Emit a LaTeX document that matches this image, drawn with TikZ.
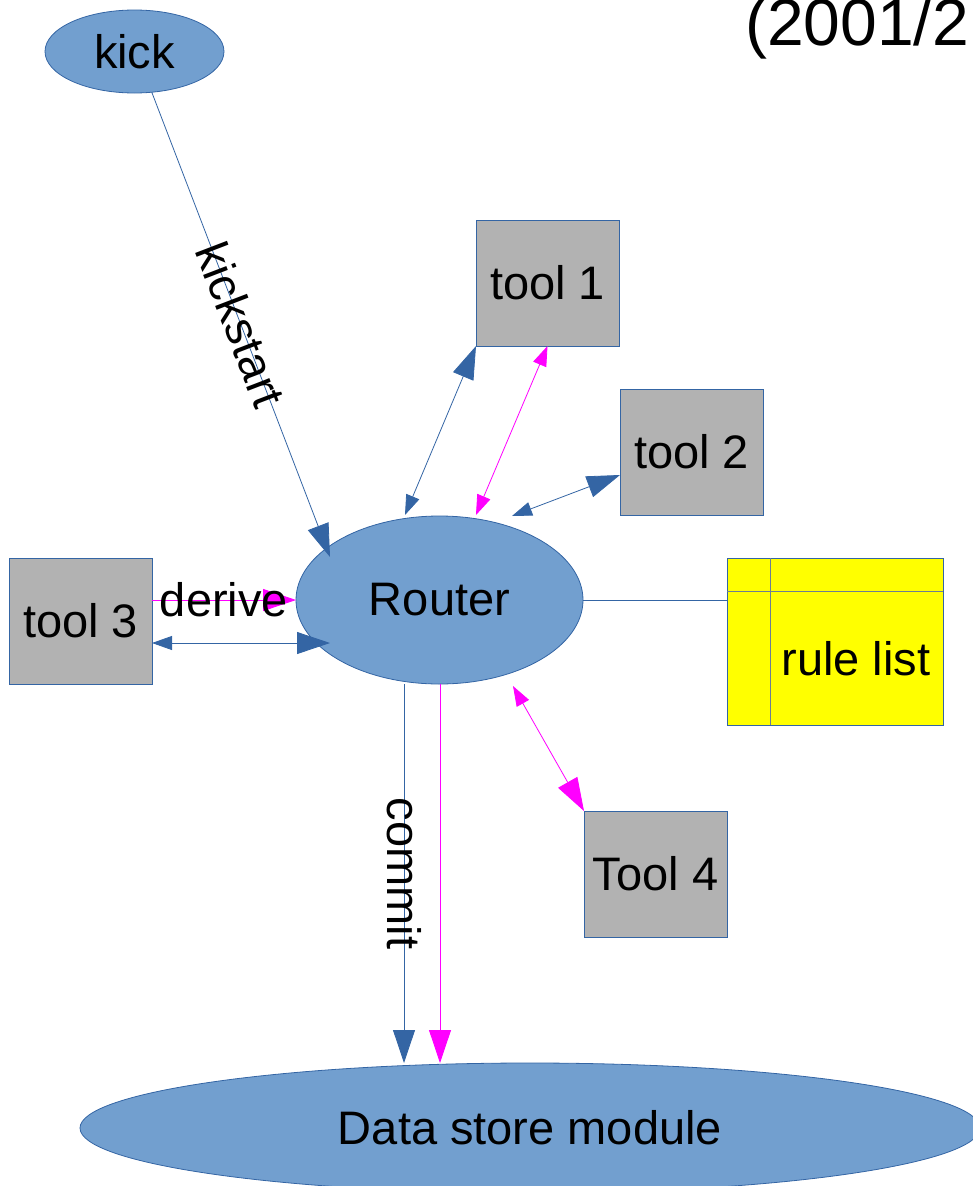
\documentclass[tikz,border=0pt]{standalone}
\usepackage{fontspec}
\setmainfont{Liberation Sans}
\usetikzlibrary{shapes.geometric,arrows.meta}
\definecolor{lineblue}{HTML}{3465A4}
\definecolor{fillblue}{HTML}{729FCF}
\definecolor{boxgray}{HTML}{B2B2B2}
\definecolor{linkmag}{HTML}{FF00FF}
\definecolor{ruleyellow}{HTML}{FFFF00}
\definecolor{rulegrid}{HTML}{6C7E94}
\begin{document}
\begin{tikzpicture}[x=1pt,y=-1pt,
  txt/.style={font=\fontsize{47}{56}\selectfont, text=black},
  oval/.style={ellipse, draw=lineblue, fill=fillblue, line width=0.8pt,
    inner sep=0pt, outer sep=0pt, txt},
  toolbox/.style={rectangle, draw=lineblue, fill=boxgray, line width=0.8pt,
    minimum width=143pt, minimum height=126pt, inner sep=0pt, outer sep=0pt, txt},
  bluelink/.style={draw=lineblue, line width=0.8pt},
  maglink/.style={draw=linkmag, line width=0.8pt},
  tipBE/.style={-{Triangle[length=33pt,width=22pt]}},
  tipSB/.style={{Triangle[length=20pt,width=14pt]}-{Triangle[length=33pt,width=22pt]}},
  tipSS/.style={{Triangle[length=20pt,width=14pt]}-{Triangle[length=20pt,width=14pt]}},
  lbl/.style={txt, inner sep=0pt}]
\useasboundingbox (0,0) rectangle (972,1186);

% main blocks
\node[oval, minimum width=179pt, minimum height=83pt] (kick) at (134.5,51.5) {kick};
\node[oval, minimum width=287pt, minimum height=168pt] (router) at (439.5,600) {Router};
\node[oval, minimum width=900pt, minimum height=130pt] (store) at (530,1128) {Data store module};

\node[toolbox] (tool1) at (547.5,283) {tool 1};
\node[toolbox] (tool2) at (691.5,452) {tool 2};
\node[toolbox] (tool3) at (80.5,621) {tool 3};
\node[toolbox] (tool4) at (655.5,874) {Tool 4};

% rule list table
\node[rectangle, draw=lineblue, fill=ruleyellow, line width=0.8pt,
  minimum width=216pt, minimum height=167pt, inner sep=0pt, outer sep=0pt]
  (rules) at (835,641.5) {};
\draw[rulegrid, line width=0.8pt] ([xshift=43pt]rules.north west) -- ([xshift=43pt]rules.south west);
\draw[rulegrid, line width=0.8pt] ([yshift=-33pt]rules.north west) -- ([yshift=-33pt]rules.north east);
\node[lbl] (rulestext) at (856,659) {rule list};

% heading
\node[anchor=base west, inner sep=0pt, font=\fontsize{66}{76}\selectfont] (period) at (745,45) {(2001/2};

% connector end points on the router
\coordinate (rKick) at ([xshift=-109.5pt,yshift=43pt]router.center);
\coordinate (rT1b) at ([xshift=-34.5pt,yshift=85pt]router.center);
\coordinate (rT1m) at ([xshift=36.5pt,yshift=85pt]router.center);
\coordinate (rT2) at ([xshift=72.5pt,yshift=84pt]router.center);
\coordinate (rT3) at ([xshift=-109.5pt,yshift=-43pt]router.center);
\coordinate (rT4) at ([xshift=73.5pt,yshift=-86pt]router.center);
\coordinate (rCommit) at ([xshift=-35.5pt]router.south);
\coordinate (rStore) at ([xshift=0.5pt]router.south);

% connectors
\draw[bluelink, tipBE] (kick.-67) -- (rKick)
  node[midway, sloped, lbl] (kicklabel) {kickstart};
\draw[bluelink, tipSB] (rT1b) -- (tool1.south west);
\draw[maglink, tipSS] (rT1m) -- (tool1.south);
\draw[bluelink, tipSB] (rT2) -- ([yshift=-23pt]tool2.west);
\draw[bluelink, tipSB] ([yshift=-22pt]tool3.east) -- (rT3);
\draw[maglink, tipBE] ([yshift=21pt]tool3.east) -- (router.west)
  node[midway, lbl] (derivelabel) {derive};
\draw[maglink, tipSB] (rT4) -- (tool4.north west);
\draw[bluelink, tipBE] (rCommit) -- (rCommit |- store.north)
  node[midway, rotate=-90, lbl] (commitlabel) {commit};
\draw[maglink, tipBE] (rStore) -- (rStore |- store.north);
\draw[bluelink] (router.east) -- (router.east -| rules.west);
\end{tikzpicture}
\end{document}
